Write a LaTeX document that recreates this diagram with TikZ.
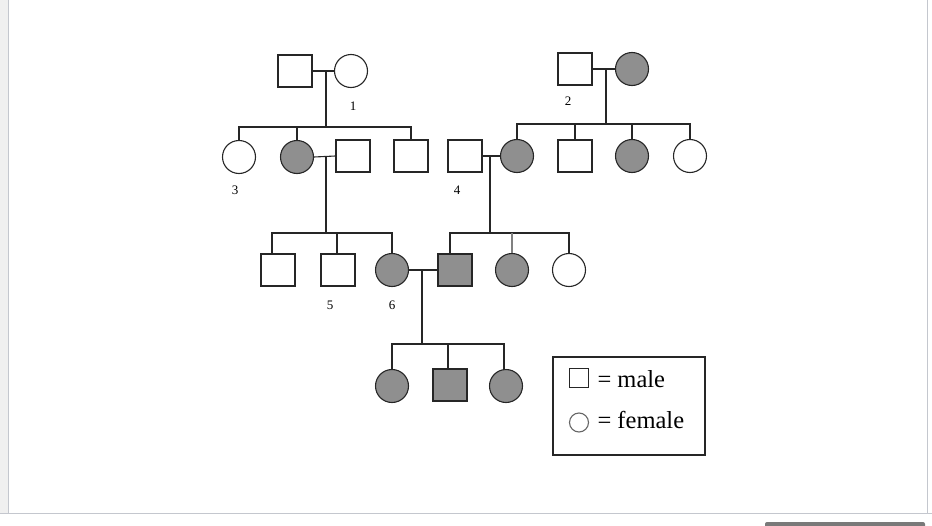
\documentclass[tikz,border=0pt]{standalone}
\usepackage{fontspec}
\setmainfont{Liberation Serif}
\definecolor{affgray}{RGB}{143,143,143}
\definecolor{framegray}{RGB}{196,199,206}
\definecolor{stripgray}{RGB}{240,240,240}
\begin{document}
\begin{tikzpicture}[x=1pt,y=-1pt,
  line width=1.1pt,
  male/.style={draw=black!85, rectangle, minimum width=34pt, minimum height=32pt, inner sep=0pt},
  female/.style={draw=black!85, circle, minimum size=33pt, inner sep=0pt},
  aff/.style={fill=affgray},
  link/.style={draw=black!85, line width=1.1pt},
  idlabel/.style={font=\fontsize{13}{15}\selectfont, inner sep=0pt},
  legtext/.style={font=\fontsize{24.5}{28}\selectfont, inner sep=0pt, anchor=base west}]
\useasboundingbox (0,0) rectangle (932,525);
% frame
\fill[stripgray] (0,0) rectangle (8,513);
\draw[framegray, line width=1pt] (8,0) -- (8,513);
\draw[framegray, line width=1pt] (927,0) -- (927,513);
\draw[framegray, line width=1pt] (0,513) -- (932,513);
\fill[gray!95!black, rounded corners=2pt] (765,522) rectangle (925,528);

% generation 1 left
\node[male] (m1) at (295,71) {};
\node[female] (f1) at (351,71) {};
\coordinate (j1) at (326,71);
\coordinate (b1) at (326,127);
\draw[link] (m1.east) -- (f1.west);
\draw[link] (j1) -- (b1);
\node[idlabel] (l1) at (353,106) {1};

% generation 1 right
\node[male] (m2) at (575,69) {};
\node[female,aff] (f2) at (632,69) {};
\coordinate (j2) at (606,69);
\coordinate (b2) at (606,124);
\draw[link] (m2.east) -- (f2.west);
\draw[link] (j2) -- (b2);
\node[idlabel] (l2) at (568,101) {2};

% generation 2 left
\node[female] (c3) at (239,157) {};
\node[female,aff] (a2) at (297,157) {};
\node[male] (h2) at (353,156) {};
\node[male] (u2) at (411,156) {};
\draw[link] (c3.north) -- (c3.north |- b1) -- (u2.north |- b1) -- (u2.north);
\draw[link] (a2.north) -- (a2.north |- b1);
\node[idlabel] (l3) at (235,190) {3};

% generation 2 right
\node[male] (p4) at (465,156) {};
\node[female,aff] (d1) at (517,156) {};
\node[male] (d2) at (575,156) {};
\node[female,aff] (d3) at (632,156) {};
\node[female] (d4) at (690,156) {};
\draw[link] (d1.north) -- (d1.north |- b2) -- (d4.north |- b2) -- (d4.north);
\draw[link] (d2.north) -- (d2.north |- b2);
\draw[link] (d3.north) -- (d3.north |- b2);
\node[idlabel] (l4) at (457,190) {4};

% marriages generation 2
\coordinate (j3) at (326,156);
\coordinate (b3) at (326,233);
\draw[link] (a2.east) -- (h2.west);
\draw[link] (j3) -- (b3);
\coordinate (j4) at (490,156);
\coordinate (b4) at (490,233);
\draw[link] (p4.east) -- (d1.west);
\draw[link] (j4) -- (b4);

% generation 3 left
\node[male] (g1) at (278,270) {};
\node[male] (g5) at (338,270) {};
\node[female,aff] (g6) at (392,270) {};
\draw[link] ([xshift=-6pt]g1.north) -- ([xshift=-6pt]g1.north |- b3) -- (g6.north |- b3) -- (g6.north);
\draw[link] ([xshift=-1pt]g5.north) -- ([xshift=-1pt]g5.north |- b3);
\node[idlabel] (l5) at (330,305) {5};
\node[idlabel] (l6) at (392,305) {6};

% generation 3 right
\node[male,aff] (r1) at (455,270) {};
\node[female,aff] (r2) at (512,270) {};
\node[female] (r3) at (569,270) {};
\draw[link] ([xshift=-5pt]r1.north) -- ([xshift=-5pt]r1.north |- b4) -- (r3.north |- b4) -- (r3.north);
\draw[link, draw=black!50] (r2.north) -- (r2.north |- b4);

% marriage generation 3
\coordinate (j5) at (422,271);
\coordinate (b5) at (422,344);
\draw[link] (g6.east) -- (r1.west);
\draw[link] (j5) -- (b5);

% generation 4
\node[female,aff] (k1) at (392,386) {};
\node[male,aff] (k2) at (450,385) {};
\node[female,aff] (k3) at (506,386) {};
\draw[link] (k1.north) -- (k1.north |- b5) -- ([xshift=-2pt]k3.north |- b5) -- ([xshift=-2pt]k3.north);
\draw[link] ([xshift=-2pt]k2.north) -- ([xshift=-2pt]k2.north |- b5);

% legend
\node[draw=black!85, line width=1.1pt, minimum width=152pt, minimum height=98pt, inner sep=0pt] (leg) at (629,406) {};
\node[draw=black!85, line width=1.1pt, minimum size=19pt, inner sep=0pt] (lsq) at (579,378) {};
\node[draw=black!60, line width=1.1pt, circle, minimum size=19pt, inner sep=0pt] (lci) at (579,422.5) {};
\node[legtext] (tmale) at (597,387) {= male};
\node[legtext] (tfemale) at (597,428) {= female};
\end{tikzpicture}
\end{document}
